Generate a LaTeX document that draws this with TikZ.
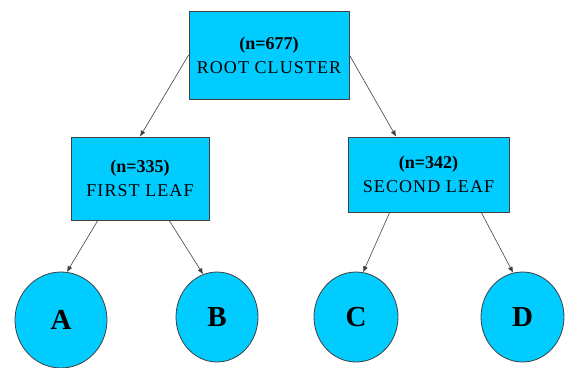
\documentclass[tikz,border=0pt]{standalone}
\usepackage{fontspec}
\setmainfont{Liberation Serif}
\usetikzlibrary{shapes.geometric,arrows.meta,calc}
\definecolor{boxfill}{HTML}{00CCFF}
\definecolor{edgegray}{HTML}{404040}
\tikzset{
  box/.style={draw=edgegray,line width=0.8pt,fill=boxfill,rectangle,inner sep=0pt,align=center,font=\fontsize{18}{20}\selectfont},
  leafnode/.style={draw=edgegray,line width=0.8pt,fill=boxfill,ellipse,inner sep=0pt,font=\fontsize{29}{30}\selectfont\bfseries},
  link/.style={draw=edgegray,line width=0.6pt,-{Latex[length=6pt,width=5pt]}}
}
\newcommand{\toprow}[1]{\textbf{#1}}
\newcommand{\botrow}[1]{\addfontfeature{LetterSpace=6}#1}
\begin{document}
\begin{tikzpicture}[x=1pt,y=-1pt]
\useasboundingbox (0,0) rectangle (573,367);
\node[box,minimum width=160pt,minimum height=88pt] (root) at (269,55) {\toprow{(n=677)}\\[4pt]\botrow{ROOT CLUSTER}};
\node[box,minimum width=138pt,minimum height=83pt] (first) at (140,178.5) {\toprow{(n=335)}\\[4pt]\botrow{FIRST LEAF}};
\node[box,minimum width=161pt,minimum height=75pt] (second) at (428.5,174.5) {\toprow{(n=342)}\\[4pt]\botrow{SECOND LEAF}};
\node[leafnode,minimum width=92pt,minimum height=96pt] (A) at (61,320) {A};
\node[leafnode,minimum width=82pt,minimum height=90pt] (B) at (217,317) {B};
\node[leafnode,minimum width=84pt,minimum height=90pt] (C) at (356,317) {C};
\node[leafnode,minimum width=83pt,minimum height=90pt] (D) at (522.5,317) {D};
\draw[link] (root.west) -- (first.north);
\draw[link] (root.east) -- ($(second.north west)!0.3!(second.north east)$);
\draw[link] ($(first.south west)!0.196!(first.south east)$) -- (A.83);
\draw[link] ($(first.south west)!0.71!(first.south east)$) -- (B.108);
\draw[link] ($(second.south west)!0.26!(second.south east)$) -- (C.81);
\draw[link] ($(second.south west)!0.826!(second.south east)$) -- (D.102);
\end{tikzpicture}
\end{document}
